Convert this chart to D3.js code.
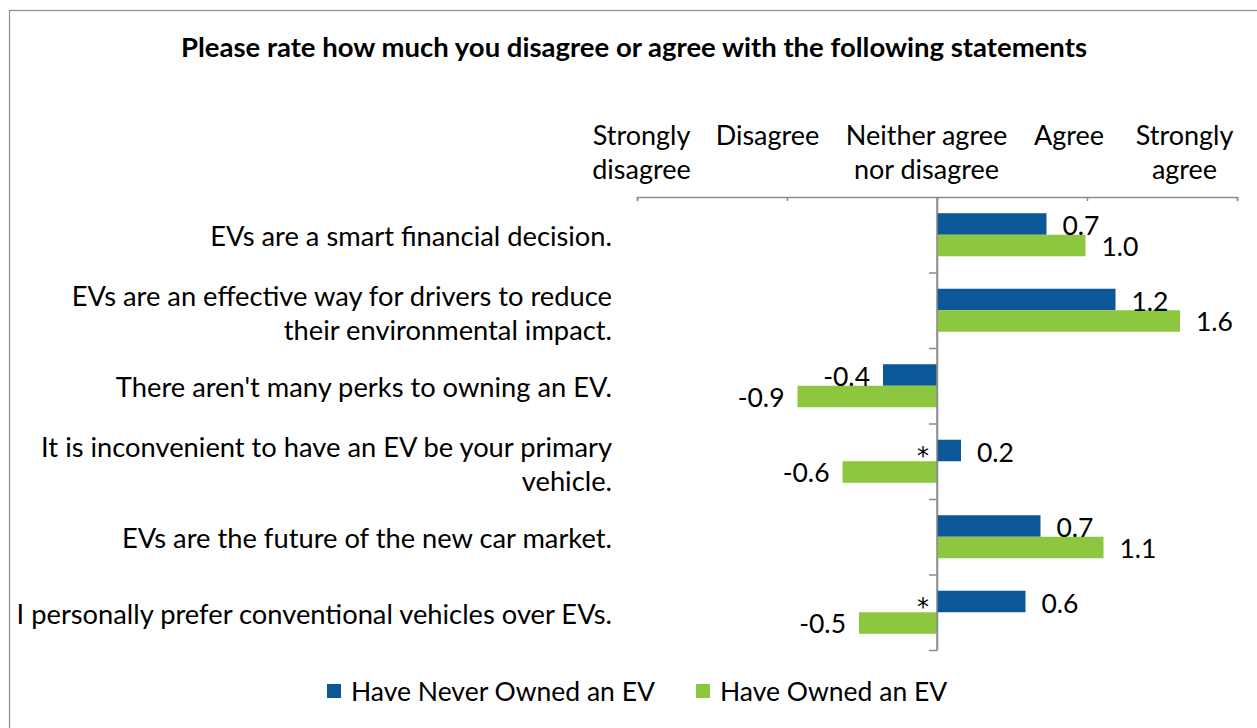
<!DOCTYPE html>
<html>
<head>
<meta charset="utf-8">
<script src="https://cdn.jsdelivr.net/npm/d3@7"></script>
<style>
  body { margin: 0; background: #fff; }
  svg { font-family: Lato, "Open Sans", sans-serif; }
</style>
</head>
<body>
<svg id="chart"></svg>
<script>
// data
const categories = [
    "EVs are a smart financial decision.",
    "EVs are an effective way for drivers to reduce\ntheir environmental impact.",
    "There aren't many perks to owning an EV.",
    "It is inconvenient to have an EV be your primary\nvehicle.",
    "EVs are the future of the new car market.",
    "I personally prefer conventional vehicles over EVs."
];
const series = ["Have Never Owned an EV", "Have Owned an EV"];
const neverOwned = [0.73, 1.19, -0.36, 0.16, 0.69, 0.59];
const owned = [0.99, 1.62, -0.93, -0.63, 1.11, -0.52];
const starred = [false, false, false, true, false, true];   // "*" next to never-owned bar
const scaleLabels = ["Strongly\ndisagree", "Disagree", "Neither agree\nnor disagree", "Agree", "Strongly\nagree"];
const scaleLabelAt = [-1.97, -1.13, -0.07, 0.88, 1.65];
const colors = ['#0b5797', '#8dc63f'];

const config = {
    width: 1257,
    height: 728,
    left: 637,
    right: 1237,
    top: 197,
    bottom: 650
};

let svg = d3.select('#chart')
    .attr('width', config.width)
    .attr('height', config.height);

// frame
svg.append('rect')
    .attr('x', 9.5).attr('y', 10.5)
    .attr('width', 1300).attr('height', 800)
    .style('fill', 'none')
    .style('stroke', '#8c8c8c')
    .style('stroke-width', 1.2);

svg.append('text')
    .attr('x', 634).attr('y', 57)
    .attr('text-anchor', 'middle')
    .style('font-weight', 'bold')
    .style('font-size', '27.5px')
    .text('Please rate how much you disagree or agree with the following statements');

// scales
let xScale = d3.scaleLinear()
    .domain([-2, 2])
    .range([config.left, config.right]);

let yScale = d3.scaleBand()
    .domain(categories)
    .range([config.top, config.bottom])
    .paddingInner(0.43)
    .paddingOuter(0.215);

let ySub = d3.scaleBand()
    .domain(series)
    .range([0, yScale.bandwidth()]);

let rowScale = d3.scaleLinear()
    .domain([0, categories.length])
    .range([config.top, config.bottom]);

// top axis
let xAxis = svg.append('g')
    .attr('transform', `translate(0,${config.top})`)
    .call(d3.axisBottom(xScale).ticks(4).tickSize(4).tickFormat(''));
xAxis.selectAll('path, line').style('stroke', '#8c8c8c').style('stroke-width', 1.5);

// vertical axis at zero
let yAxis = svg.append('g')
    .attr('transform', `translate(${xScale(0)},0)`)
    .call(d3.axisLeft(rowScale).ticks(categories.length).tickSize(8).tickSizeOuter(0).tickFormat(''));
yAxis.selectAll('path, line').style('stroke', '#8c8c8c').style('stroke-width', 1.5);
yAxis.selectAll('.tick').filter(d => d === 0).remove();

// scale headings
scaleLabels.forEach((lab, i) => {
    let t = svg.append('text')
        .attr('text-anchor', 'middle')
        .style('font-size', '27px')
        .attr('transform', `translate(${xScale(scaleLabelAt[i])},145)`);
    lab.split('\n').forEach((line, j) => {
        t.append('tspan').attr('x', 0).attr('y', j * 34).text(line);
    });
});

// category labels
categories.forEach(cat => {
    let lines = cat.split('\n');
    let cy = yScale(cat) + yScale.bandwidth() / 2 + (lines.length > 1 ? 3 : 2);
    let t = svg.append('text')
        .attr('text-anchor', 'end')
        .style('font-size', '27.3px')
        .attr('transform', `translate(612,${cy})`);
    lines.forEach((line, j) => {
        t.append('tspan')
            .attr('x', 0)
            .attr('y', (j - (lines.length - 1) / 2) * 34)
            .attr('dy', '0.35em')
            .text(line);
    });
});

// bars
const rows = categories.map((c, i) => ({cat: c, values: [neverOwned[i], owned[i]], star: starred[i]}));
const barData = rows.flatMap(r => r.values.map((v, k) => ({cat: r.cat, s: series[k], k: k, v: v, star: r.star})));

svg.append('g').selectAll('rect')
    .data(barData)
    .enter()
    .append('rect')
    .attr('x', d => xScale(Math.min(0, d.v)))
    .attr('y', d => yScale(d.cat) + ySub(d.s))
    .attr('width', d => Math.abs(xScale(d.v) - xScale(0)))
    .attr('height', ySub.bandwidth())
    .style('fill', d => colors[d.k]);

// redraw zero line on top of bars
svg.append('line')
    .attr('x1', xScale(0)).attr('x2', xScale(0))
    .attr('y1', config.top).attr('y2', config.bottom)
    .style('stroke', '#8c8c8c').style('stroke-width', 1.5);

// value labels
svg.append('g').selectAll('text')
    .data(barData)
    .enter()
    .append('text')
    .attr('x', d => xScale(d.v) + (d.v >= 0 ? 16 : -13))
    .attr('y', d => yScale(d.cat) + ySub(d.s) + ySub.bandwidth() / 2 + (d.k === 0 ? 2 : 1))
    .attr('dy', '0.35em')
    .attr('text-anchor', d => d.v >= 0 ? 'start' : 'end')
    .style('font-size', '26.5px')
    .text(d => d.v.toFixed(1));

// significance marks
svg.append('g').selectAll('text')
    .data(barData.filter(d => d.star && d.k === 0))
    .enter()
    .append('text')
    .attr('x', xScale(0) - 8)
    .attr('y', d => yScale(d.cat) + ySub(d.s) + ySub.bandwidth() / 2 + 5)
    .attr('dy', '0.35em')
    .attr('text-anchor', 'end')
    .style('font-family', '"DejaVu Sans", sans-serif')
    .style('font-size', '24px')
    .text('*');

// legend
const legendX = [327, 696];
let legend = svg.append('g').selectAll('g')
    .data(series)
    .enter()
    .append('g')
    .attr('transform', (d, i) => `translate(${legendX[i]},684)`);
legend.append('rect')
    .attr('width', 14).attr('height', 14)
    .style('fill', (d, i) => colors[i]);
legend.append('text')
    .attr('x', 24).attr('y', 8)
    .attr('dy', '0.35em')
    .style('font-size', '26.5px')
    .text(d => d);
</script>
</body>
</html>
